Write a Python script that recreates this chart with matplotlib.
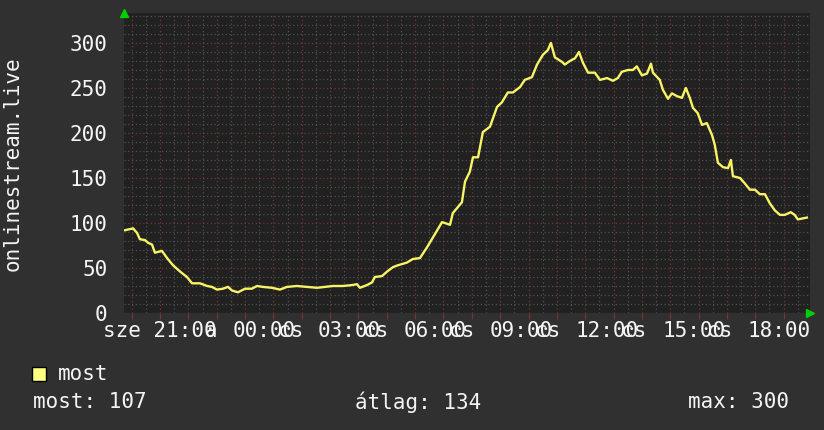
import matplotlib
matplotlib.use("Agg")
import matplotlib.pyplot as plt
import matplotlib.transforms as mtransforms
import numpy as np

# hours since the left edge of the graph, and viewer counts
hours = [0.04, 0.32, 0.46, 0.56, 0.74, 0.85, 0.99, 1.09, 1.34, 1.52, 1.73, 1.98,
         2.22, 2.40, 2.68, 2.93, 3.10, 3.28, 3.49, 3.67, 3.81, 4.02, 4.27, 4.51,
         4.69, 4.90, 5.22, 5.50, 5.75, 6.10, 6.45, 6.81, 7.09, 7.37, 7.72, 8.04,
         8.22, 8.32, 8.57, 8.75, 8.85, 9.10, 9.28, 9.49, 9.66, 9.98, 10.19, 10.44,
         10.69, 10.90, 11.22, 11.50, 11.60, 11.92, 12.03, 12.20, 12.31, 12.49, 12.66,
         12.91, 13.16, 13.33, 13.54, 13.72, 13.97, 14.14, 14.39, 14.57, 14.78, 14.95,
         15.06, 15.20, 15.45, 15.55, 15.73, 15.91, 16.05, 16.19, 16.37, 16.61, 16.79,
         17.04, 17.25, 17.42, 17.56, 17.78, 17.95, 18.09, 18.27, 18.45, 18.59, 18.66,
         18.90, 19.01, 19.19, 19.33, 19.50, 19.68, 19.82, 19.96, 20.07, 20.24, 20.39,
         20.56, 20.74, 20.84, 20.95, 21.13, 21.31, 21.41, 21.48, 21.73, 21.90, 22.08,
         22.26, 22.43, 22.61, 22.78, 22.96, 23.14, 23.31, 23.52, 23.66, 23.77, 24.09]
viewers = [92, 94, 89, 82, 81, 78, 76, 67, 69, 61, 53, 46,
           40, 33, 33, 30, 29, 26, 27, 29, 25, 23, 27, 27,
           30, 29, 28, 26, 29, 30, 29, 28, 29, 30, 30, 31,
           32, 28, 31, 34, 40, 41, 46, 51, 53, 56, 60, 61,
           73, 84, 101, 98, 111, 123, 146, 157, 173, 173, 201,
           207, 229, 234, 245, 245, 251, 259, 262, 276, 287, 292,
           300, 284, 279, 276, 280, 283, 290, 278, 267, 267, 259,
           261, 258, 261, 268, 270, 270, 274, 264, 266, 277, 267,
           259, 248, 238, 244, 241, 239, 250, 239, 228, 222, 209,
           211, 198, 187, 167, 162, 161, 170, 152, 150, 144, 137,
           137, 132, 132, 122, 114, 109, 109, 112, 109, 104, 106]

time_labels = ["sze 21:00", "00:00", "03:00", "06:00", "09:00", "12:00", "15:00", "18:00"]
label_starts = [-0.74, 3.84, 6.84, 9.88, 12.91, 15.94, 18.98, 21.98]
y_ticks = [0, 50, 100, 150, 200, 250, 300]
stats = {"most": 107, "átlag": 134, "max": 300}

bg = "#303030"
plot_bg = "#212121"
text_c = "#f4f4f4"
mono = "DejaVu Sans Mono"

fig = plt.figure(figsize=(8.24, 4.30), dpi=100, facecolor=bg)
ax = fig.add_axes([124 / 824, 117 / 430, 686 / 824, 300 / 430])
ax.set_facecolor(plot_bg)
ax.set_xlim(0, 24.2)
ax.set_ylim(0, 333.3)
for s in ax.spines.values():
    s.set_visible(False)

# grid
major_x = np.arange(0.27, 24.2, 1.0)
minor_x = np.arange(0.77, 24.2, 1.0)
ax.set_xticks(major_x)
ax.set_xticks(minor_x, minor=True)
ax.set_xticklabels([])
ax.set_yticks(y_ticks)
ax.set_yticks(np.arange(10, 333, 10), minor=True)
ax.set_yticklabels([str(v) for v in y_ticks], fontsize=15, family=mono, color=text_c)
ax.tick_params(axis="y", which="both", length=0, pad=12)
ax.tick_params(axis="x", which="major", length=4, color="#7a3434", direction="out")
ax.tick_params(axis="x", which="minor", length=0)
ax.grid(which="minor", color="#505050", linestyle=(0, (1, 2)), linewidth=0.9)
ax.grid(which="major", color="#6e3838", linestyle=(0, (1, 2)), linewidth=0.9)
ax.set_axisbelow(True)

ax.plot(hours, viewers, color="#f8f466", linewidth=1.7, zorder=3)

# x labels, with the overlapping glyphs of the original
trans = mtransforms.blended_transform_factory(ax.transData, ax.transAxes)
for lab, x0 in zip(time_labels, label_starts):
    ax.text(x0, -0.06, lab, transform=trans, ha="left", va="center",
            fontsize=15, family=mono, color=text_c, clip_on=False)
for x0 in label_starts[1:-1]:
    ax.text(x0 + 1.59, -0.06, "cs", transform=trans, ha="left", va="center",
            fontsize=15, family=mono, color=text_c, clip_on=False)
ax.text(label_starts[0] + 3.6, -0.06, "a", transform=trans, ha="left", va="center",
        fontsize=15, family=mono, color=text_c, clip_on=False)

# arrows
ax.plot([0], [1.0], transform=ax.transAxes, marker="^", color="#00d000",
        markersize=6, clip_on=False)
ax.plot([1.0], [0.0], transform=ax.transAxes, marker=">", color="#00d000",
        markersize=6, clip_on=False)

fig.text(13 / 824, 1 - 164 / 430, "onlinestream.live", rotation=90, ha="center",
         va="center", fontsize=15, family=mono, color=text_c)

# legend
fig.patches.append(plt.Rectangle((32 / 824, 1 - 381 / 430), 14 / 824, 14 / 430,
                                 transform=fig.transFigure, facecolor="#ffff80",
                                 edgecolor="black", linewidth=1))
fig.text(58 / 824, 1 - 374 / 430, "most", ha="left", va="center",
         fontsize=15, family=mono, color=text_c)
for (name, val), x0 in zip(stats.items(), [33, 355, 688]):
    fig.text(x0 / 824, 1 - 402 / 430, f"{name}: {val}", ha="left", va="center",
             fontsize=15, family=mono, color=text_c)

fig.savefig("out.png", dpi=100, facecolor=bg)
